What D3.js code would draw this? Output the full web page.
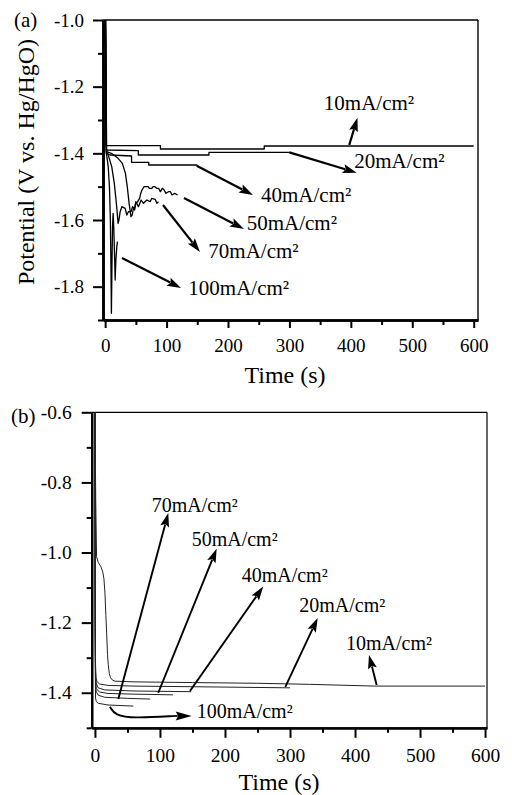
<!DOCTYPE html>
<html><head><meta charset="utf-8">
<script src="https://cdn.jsdelivr.net/npm/d3@7"></script>
<style>
html,body{margin:0;padding:0;background:#fff;}
svg{display:block;}
text{font-family:"Liberation Serif","Times New Roman",serif;fill:#000;}
</style></head><body>
<svg id="c" width="512" height="795"></svg>
<script>
// ---------- tick values ----------
const xTicks = [0,100,200,300,400,500,600];
const xMinorTicks = [50,150,250,350,450,550];
const yTicksA = [-1.0,-1.2,-1.4,-1.6,-1.8];
const yMinorA = [-1.1,-1.3,-1.5,-1.7,-1.9];
const yTicksB = [-0.6,-0.8,-1.0,-1.2,-1.4];
const yMinorB = [-0.7,-0.9,-1.1,-1.3,-1.5];

// ---------- panel (a) series: [time s, potential V] ----------
const a10mA = [[0.5,-1.0],[1.5,-1.377],[90,-1.377],[90,-1.387],[259,-1.387],[259,-1.378],[600,-1.378]];
const a20mA = [[0.5,-1.0],[1.8,-1.39],[54,-1.392],[54,-1.405],[169,-1.405],[169,-1.397],[300,-1.397]];
const a40mA = [[0.5,-1.0],[2,-1.40],[8,-1.405],[43,-1.408],[43,-1.427],[71,-1.427],[71,-1.435],[150,-1.435]];
const a50mA = [[0.5,-1.0],[2.5,-1.395],[10,-1.40],[20,-1.413],[28,-1.43],[33,-1.46],[36,-1.50],[39,-1.55],[42,-1.59],[44,-1.585],[46,-1.565],[48,-1.57],[50,-1.55],[53,-1.545],[56,-1.535],[58,-1.52],[60,-1.51],[63.5,-1.50],[70,-1.50],[72,-1.505],[76,-1.505],[78,-1.50],[81,-1.50],[84,-1.505],[87,-1.505],[90,-1.515],[93,-1.505],[96,-1.51],[99,-1.52],[103,-1.515],[106,-1.515],[109,-1.525],[113,-1.52],[118,-1.525]];
const a70mA = [[0.5,-1.0],[2,-1.395],[4.2,-1.40],[10.7,-1.44],[14.9,-1.49],[17.7,-1.54],[19.3,-1.57],[21,-1.61],[22.5,-1.60],[24.4,-1.575],[27.2,-1.56],[32.6,-1.565],[35.3,-1.585],[37.9,-1.575],[42.3,-1.575],[44.5,-1.56],[47.7,-1.565],[50,-1.545],[54.2,-1.56],[58.6,-1.54],[62.4,-1.55],[67.9,-1.54],[73.3,-1.545],[76,-1.535],[81.4,-1.538],[84.2,-1.55],[86.8,-1.545]];
const a100mA = [[0.5,-1.0],[2,-1.40],[5,-1.44],[7,-1.50],[8.5,-1.60],[9.5,-1.75],[10.2,-1.88],[11,-1.75],[12,-1.62],[13,-1.58],[14,-1.62],[15.5,-1.72],[16.3,-1.78],[17.5,-1.72],[19,-1.68],[20,-1.665]];

// ---------- panel (b) series ----------
const b10mA = [[0,-0.6],[1.2,-0.85],[2.5,-1.012],[5,-1.028],[9,-1.04],[12,-1.055],[13.8,-1.075],[15.4,-1.116],[16.8,-1.18],[18,-1.23],[19.3,-1.29],[20.5,-1.32],[22,-1.345],[24,-1.357],[27,-1.364],[31,-1.367],[60,-1.369],[150,-1.371],[250,-1.373],[330,-1.376],[430,-1.381],[600,-1.381]];
const b20mA = [[0,-0.6],[0.4,-1.1],[0.9,-1.32],[1.6,-1.357],[3,-1.368],[7,-1.375],[20,-1.379],[60,-1.381],[160,-1.383],[300,-1.386]];
const b40mA = [[0,-0.6],[0.4,-1.15],[0.9,-1.34],[1.8,-1.372],[5,-1.386],[15,-1.392],[60,-1.395],[148,-1.397]];
const b50mA = [[0,-0.6],[0.4,-1.2],[0.9,-1.36],[2,-1.388],[7,-1.398],[20,-1.402],[60,-1.404],[120,-1.406]];
const b70mA = [[0,-0.6],[0.4,-1.25],[0.9,-1.375],[2,-1.397],[5,-1.407],[15,-1.413],[50,-1.416],[85,-1.418]];
const b100mA = [[0,-0.6],[0.4,-1.3],[0.9,-1.415],[2,-1.425],[5,-1.43],[20,-1.435],[59,-1.438]];

// ---------- annotations (data units) ----------
const notesA = [
  {text:"10mA/cm²",  from:[397.4,-1.375], to:[410.8,-1.293], at:[356,-1.27]},
  {text:"20mA/cm²",  from:[299.8,-1.397], to:[409.5,-1.458], at:[405.6,-1.445]},
  {text:"40mA/cm²",  from:[149,-1.437],   to:[240.7,-1.525], at:[253.7,-1.545]},
  {text:"50mA/cm²",  from:[128.4,-1.534], to:[226,-1.627],   at:[230.4,-1.63]},
  {text:"70mA/cm²",  from:[94.2,-1.555],  to:[154.4,-1.696], at:[168,-1.714]},
  {text:"100mA/cm²", from:[27.4,-1.714],  to:[123.5,-1.804], at:[135.4,-1.825]}
];
const notesB = [
  {text:"70mA/cm²", from:[35.9,-1.418],  to:[112.8,-0.887], at:[87.3,-0.884]},
  {text:"50mA/cm²", from:[97.4,-1.400],  to:[187.2,-0.989], at:[148.8,-0.98]},
  {text:"40mA/cm²", from:[146.2,-1.395], to:[258.9,-1.097], at:[225.7,-1.084]},
  {text:"20mA/cm²", from:[292.8,-1.383], to:[342.6,-1.187], at:[314.3,-1.169]},
  {text:"10mA/cm²", from:[433.3,-1.378], to:[421.5,-1.292], at:[386.1,-1.278]}
];
const curved100B = [[23.1,-1.44],[30.8,-1.464],[59,-1.473],[125.7,-1.466],[148.8,-1.466]];
const label100B = {text:"100mA/cm²", at:[156.5,-1.473]};

// ---------- drawing ----------
const svg = d3.select("#c");
const FONT = '"Liberation Serif","Times New Roman",serif';

function arrow(g, p1, p2, sw, hl, hw){
  const dx=p2[0]-p1[0], dy=p2[1]-p1[1], L=Math.hypot(dx,dy);
  const ux=dx/L, uy=dy/L;
  const bx=p2[0]-ux*hl, by=p2[1]-uy*hl;
  g.append("line").attr("x1",p1[0]).attr("y1",p1[1]).attr("x2",bx+ux*2).attr("y2",by+uy*2)
    .attr("stroke","#000").attr("stroke-width",sw);
  g.append("path").attr("d",`M${p2[0]},${p2[1]}L${bx-uy*hw/2},${by+ux*hw/2}L${bx+ux*2.5},${by+uy*2.5}L${bx+uy*hw/2},${by-ux*hw/2}Z`)
    .attr("fill","#000");
}

function panel(cfg){
  const g = svg.append("g");
  const x = d3.scaleLinear().domain(cfg.xd).range([cfg.L, cfg.R]);
  const y = d3.scaleLinear().domain(cfg.yd).range([cfg.B, cfg.T]);
  // frame top/right
  g.append("line").attr("x1",cfg.L).attr("x2",cfg.R).attr("y1",cfg.T).attr("y2",cfg.T).attr("stroke","#000").attr("stroke-width",cfg.frameW);
  g.append("line").attr("x1",cfg.R).attr("x2",cfg.R).attr("y1",cfg.T).attr("y2",cfg.B).attr("stroke","#000").attr("stroke-width",cfg.frameW);
  // series
  const line = d3.line().x(d=>x(d[0])).y(d=>y(d[1]));
  cfg.series.forEach(s=>{
    g.append("path").attr("d",line(s)).attr("fill","none").attr("stroke",cfg.lineColor)
      .attr("stroke-width",cfg.lineW).attr("stroke-linejoin","round");
  });
  // axes
  const fmtY = d=>d.toFixed(1);
  const gx = g.append("g").attr("transform",`translate(0,${cfg.B})`);
  gx.call(d3.axisBottom(x).tickValues(xMinorTicks).tickSize(5).tickSizeOuter(0).tickFormat(""));
  const gx2 = g.append("g").attr("transform",`translate(0,${cfg.B})`);
  gx2.call(d3.axisBottom(x).tickValues(xTicks).tickSize(cfg.xTick).tickSizeOuter(0).tickPadding(cfg.xPad).tickFormat(d3.format("d")));
  const gy = g.append("g").attr("transform",`translate(${cfg.L},0)`);
  gy.call(d3.axisLeft(y).tickValues(cfg.yMinor).tickSize(5).tickSizeOuter(0).tickFormat(""));
  const gy2 = g.append("g").attr("transform",`translate(${cfg.L},0)`);
  gy2.call(d3.axisLeft(y).tickValues(cfg.yTicks).tickSize(10).tickSizeOuter(0).tickPadding(cfg.yPad).tickFormat(fmtY));
  [gx,gx2,gy,gy2].forEach(a=>{
    a.selectAll(".domain").attr("stroke","#000").attr("stroke-width",cfg.axisW);
    a.selectAll(".tick line").attr("stroke","#000").attr("stroke-width",2);
    a.selectAll(".tick text").attr("font-family",FONT).attr("font-size",cfg.tickFont).attr("fill","#000");
  });
  // annotations
  cfg.notes.forEach(n=>{
    arrow(g,[x(n.from[0]),y(n.from[1])],[x(n.to[0]),y(n.to[1])],cfg.arrowW,14,9);
    g.append("text").attr("x",x(n.at[0])).attr("y",y(n.at[1])).attr("font-size",cfg.noteFont).text(n.text);
  });
  // x title
  g.append("text").attr("x",cfg.xTitle[0]).attr("y",cfg.xTitle[1]).attr("text-anchor","middle")
    .attr("font-size",24).text("Time (s)");
  g.append("text").attr("x",cfg.tag[0]).attr("y",cfg.tag[1]).attr("font-size",21).text(cfg.tagText);
  return {g,x,y};
}

const pa = panel({
  xd:[-3.5,607], yd:[-1.9,-1.0], L:103, R:478, T:20, B:320,
  series:[a10mA,a20mA,a40mA,a50mA,a70mA,a100mA], lineColor:"#000", lineW:1.3,
  yTicks:yTicksA, yMinor:yMinorA, xTick:8, xPad:11, yPad:9, axisW:2.6, frameW:1.4,
  tickFont:19, notes:notesA, noteFont:21, arrowW:2.2,
  xTitle:[285,383], tag:[14,27], tagText:"(a)"
});
pa.g.append("text").attr("transform","translate(34,162) rotate(-90)").attr("text-anchor","middle")
  .attr("font-size",24).text("Potential (V vs. Hg/HgO)");

const pb = panel({
  xd:[-5,603], yd:[-1.5,-0.6], L:91.7, R:487, T:412.3, B:727.8,
  series:[b10mA,b20mA,b40mA,b50mA,b70mA,b100mA], lineColor:"#222", lineW:1,
  yTicks:yTicksB, yMinor:yMinorB, xTick:10, xPad:10, yPad:10, axisW:2.2, frameW:1.2,
  tickFont:19.5, notes:notesB, noteFont:20, arrowW:1.9,
  xTitle:[279,790], tag:[11,423], tagText:"(b)"
});
// curved arrow for 100 mA in (b)
(function(){
  const pts = curved100B.map(d=>[pb.x(d[0]),pb.y(d[1])]);
  const tip = pts[pts.length-1], prev = pts[pts.length-2];
  const dx=tip[0]-prev[0], dy=tip[1]-prev[1], L=Math.hypot(dx,dy), ux=dx/L, uy=dy/L;
  const hl=16, hw=9;
  const bx=tip[0]-ux*hl, by=tip[1]-uy*hl;
  const body = pts.slice(0,-1).concat([[bx+ux*2,by+uy*2]]);
  pb.g.append("path").attr("d",d3.line().curve(d3.curveBasis)(body)).attr("fill","none")
    .attr("stroke","#000").attr("stroke-width",1.9);
  pb.g.append("path").attr("d",`M${tip[0]},${tip[1]}L${bx-uy*hw/2},${by+ux*hw/2}L${bx+ux*2.5},${by+uy*2.5}L${bx+uy*hw/2},${by-ux*hw/2}Z`).attr("fill","#000");
  pb.g.append("text").attr("x",pb.x(label100B.at[0])).attr("y",pb.y(label100B.at[1])).attr("font-size",20).text(label100B.text);
})();
</script>
</body></html>
